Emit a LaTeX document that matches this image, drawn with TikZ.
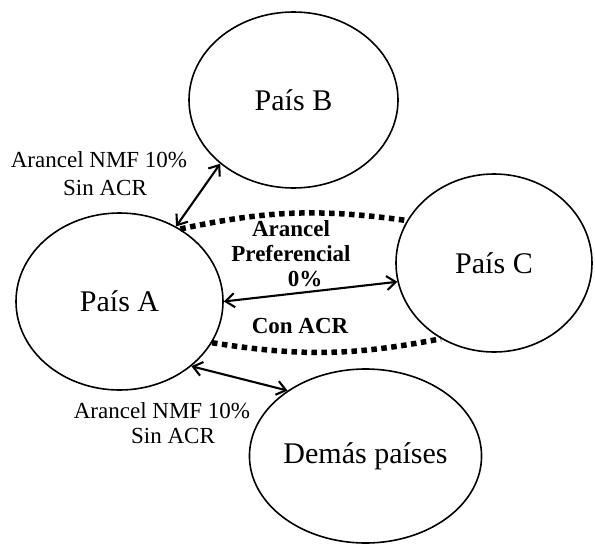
\documentclass[tikz,border=0pt]{standalone}
\usepackage{fontspec}
\setmainfont{Liberation Serif}
\usetikzlibrary{shapes.geometric, arrows.meta, positioning}

\begin{document}
\begin{tikzpicture}[x=1pt, y=-1pt,
    pais/.style={ellipse, draw=black, line width=1.6pt, inner sep=0pt, font=\fontsize{30}{34}\selectfont},
    flujo/.style={{Straight Barb[length=9pt, width=14pt]}-{Straight Barb[length=9pt, width=14pt]}, line width=2.1pt},
    acuerdo/.style={line width=5.5pt, dash pattern=on 5.5pt off 4.5pt},
    nota/.style={font=\fontsize{23}{26}\selectfont},
    notab/.style={font=\fontsize{23}{26}\selectfont\bfseries}
]
\useasboundingbox (0,0) rectangle (595,544);

% Countries
\node[pais, minimum width=209pt, minimum height=176pt] (B) at (293.5,100) {País B};
\node[pais, minimum width=207pt, minimum height=177pt] (A) at (119.5,301.5) {País A};
\node[pais, minimum width=196pt, minimum height=178pt] (C) at (494,263) {País C};
\node[pais, minimum width=215pt, minimum height=174pt] (D) at (365.5,456) {Demás países};

% Trade links
\draw[flujo] (A.53) -- (B.221);
\draw[flujo] (A.0) -- (C.191);
\draw[flujo] (A.-42) -- (D.140);

% Agreement A--C
\draw[acuerdo] (A.50) to[bend left=10] (C.154);
\draw[acuerdo] (A.-24) to[bend right=10] (C.235);

% Labels
\node[nota] (nmf1) at (99,160) {Arancel NMF 10\%};
\node[nota] (sin1) at (105,188) {Sin ACR};
\node[notab] (pref1) at (291,229) {Arancel};
\node[notab] (pref2) at (291,254) {Preferencial};
\node[notab] (pref3) at (305,279) {0\%};
\node[notab] (con) at (300,326) {Con ACR};
\node[nota] (nmf2) at (162,411) {Arancel NMF 10\%};
\node[nota] (sin2) at (173,436) {Sin ACR};

\end{tikzpicture}
\end{document}
